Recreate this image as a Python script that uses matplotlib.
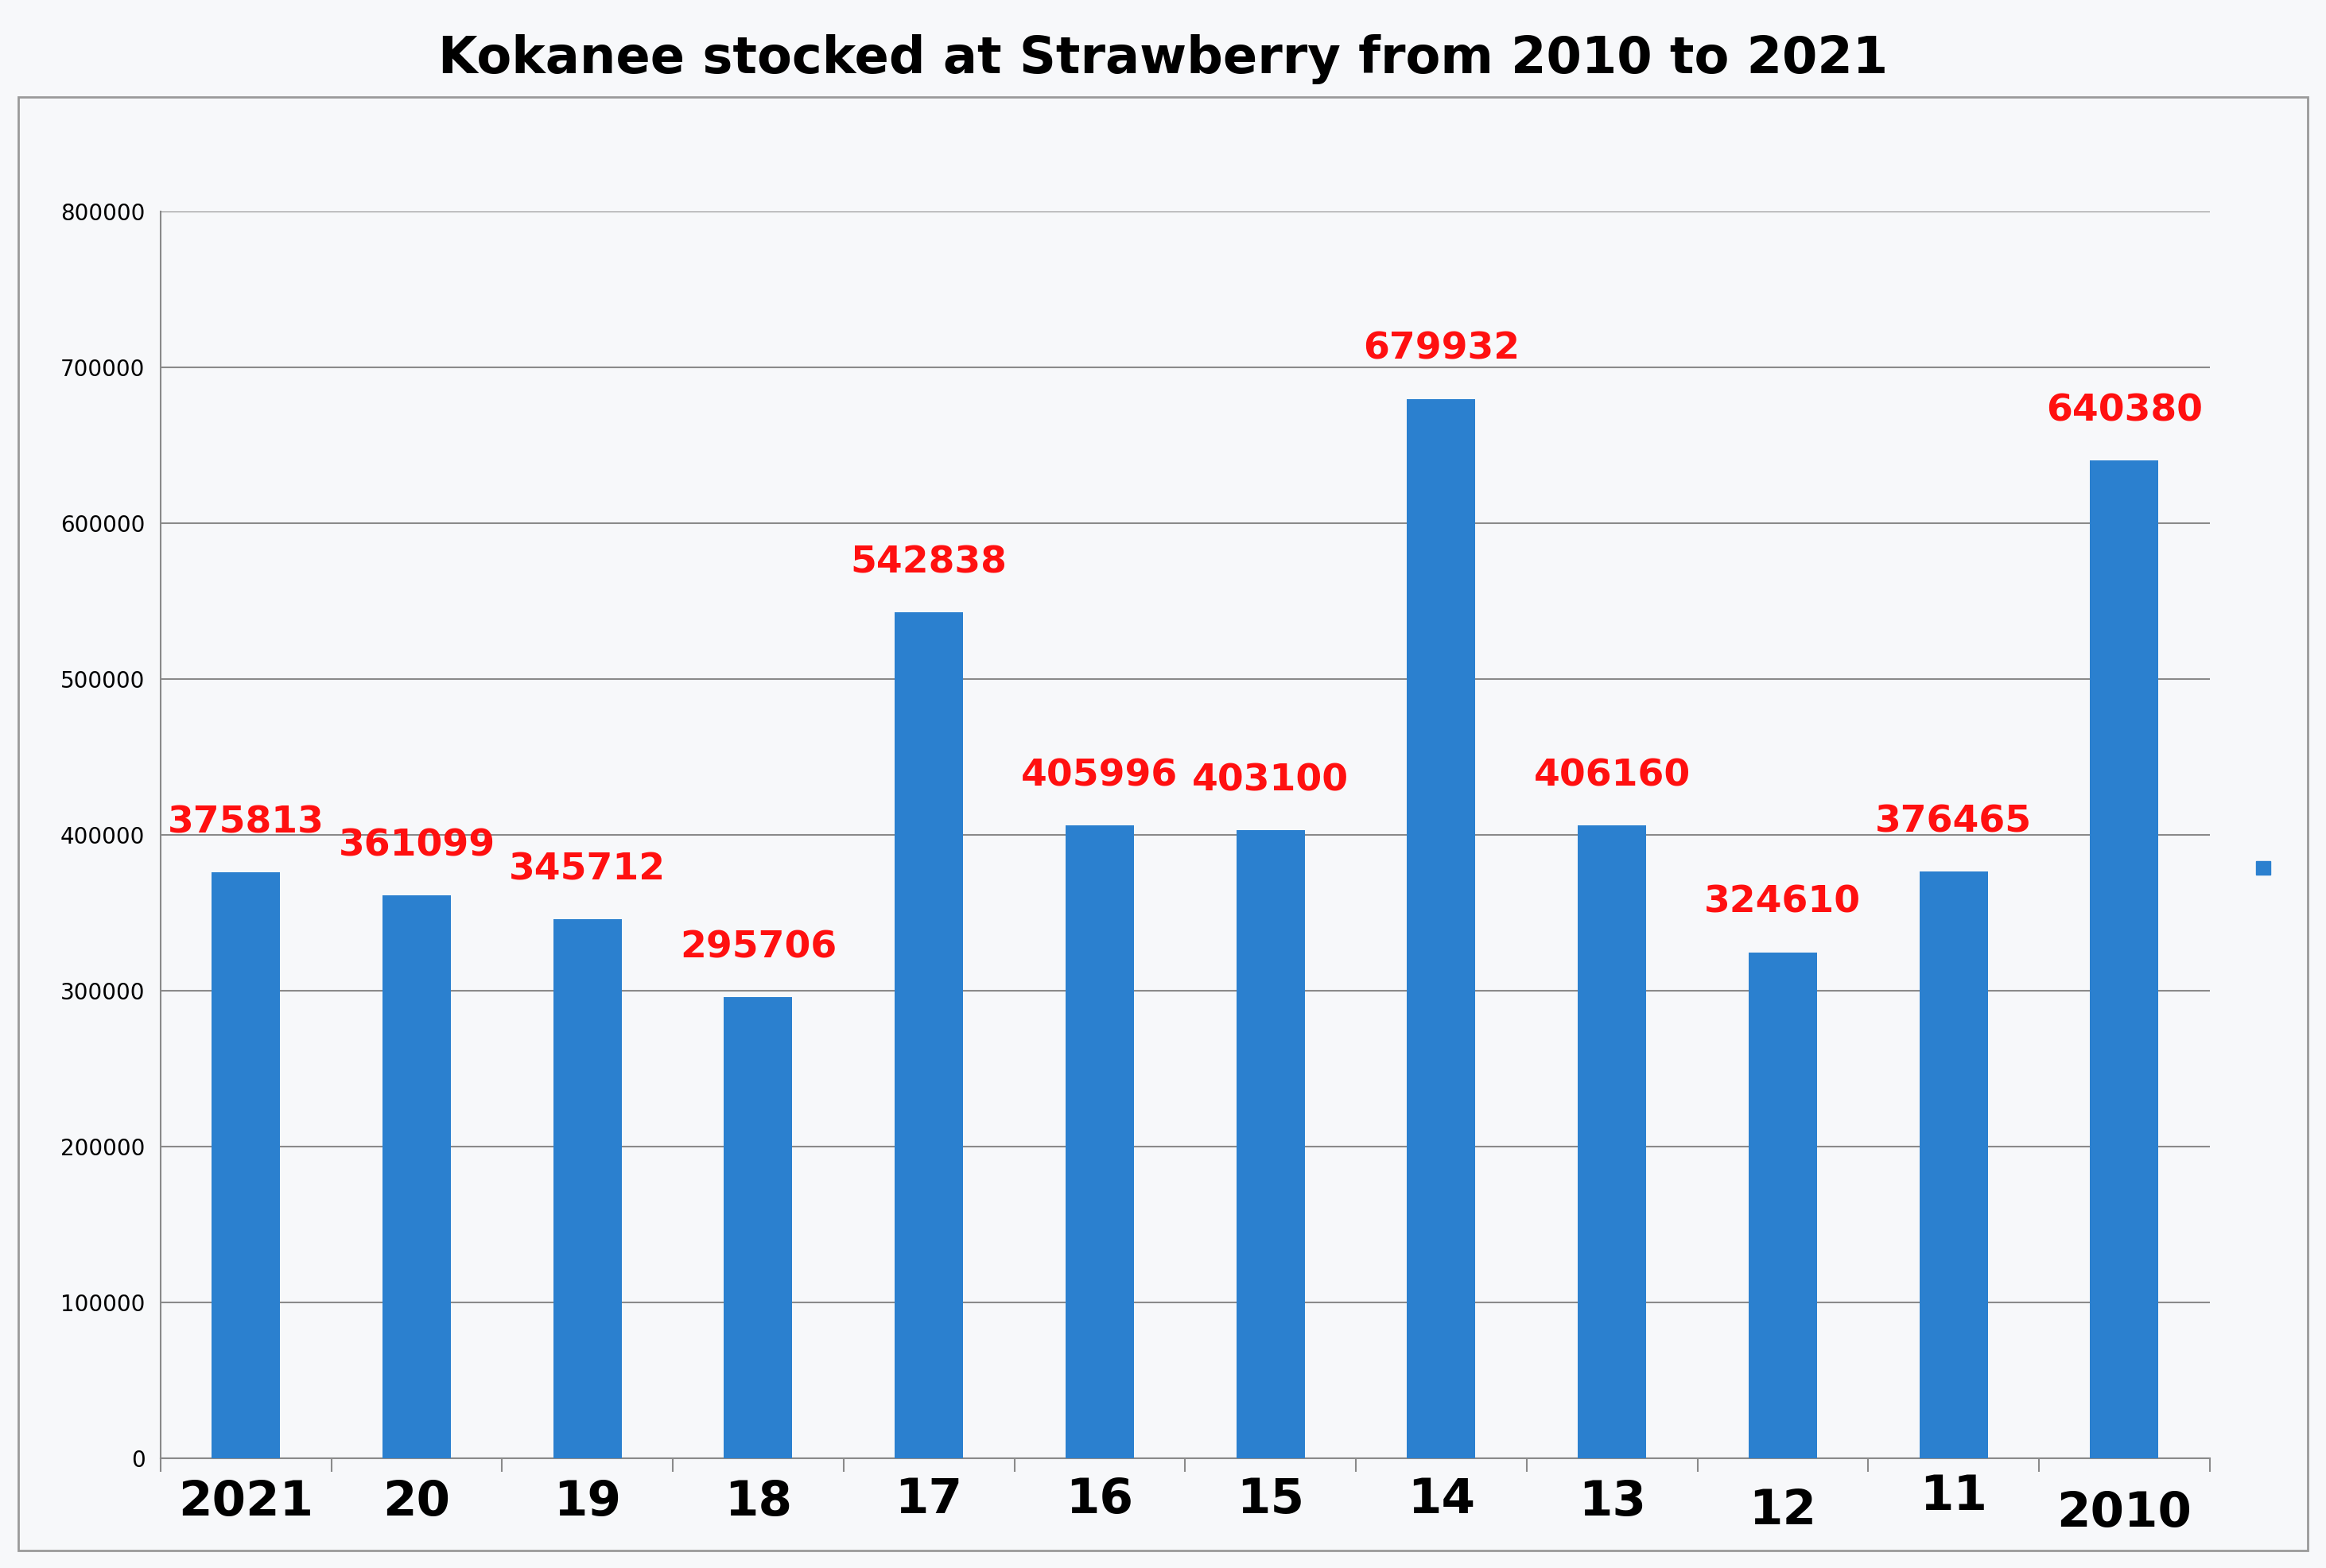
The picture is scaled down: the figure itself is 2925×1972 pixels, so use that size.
import matplotlib
matplotlib.use('Agg')
import matplotlib.pyplot as plt
from matplotlib.patches import Rectangle

years = ["2021", "20", "19", "18", "17", "16", "15", "14", "13", "12", "11", "2010"]
fish = [375813, 361099, 345712, 295706, 542838, 405996, 403100, 679932, 406160, 324610, 376465, 640380]
yticks = [0, 100000, 200000, 300000, 400000, 500000, 600000, 700000, 800000]

fig = plt.figure(figsize=(29.25, 19.72), dpi=100)
fig.patch.set_facecolor("#f7f8fa")

# outer chart frame
fig.patches.append(Rectangle((0.008, 0.011), 0.984, 0.927, transform=fig.transFigure,
                             fill=False, edgecolor="#9a9a9a", lw=2))

ax = fig.add_axes([0.069, 0.070, 0.881, 0.795])
ax.set_facecolor("#f7f8fa")
x = range(len(years))
ax.bar(x, fish, width=0.4, color="#2b80cf", zorder=3)
ax.set_xlim(-0.5, len(years) - 0.5)
ax.set_ylim(0, 800000)
ax.set_yticks(yticks)
ax.set_yticklabels([str(v) for v in yticks], fontsize=20)
ax.tick_params(axis="y", length=0, pad=14)
ax.grid(axis="y", color="#8a8a8a", lw=1.5, zorder=0)
for s in ["top", "right"]:
    ax.spines[s].set_visible(False)
ax.spines["left"].set_color("#8a8a8a")
ax.spines["left"].set_linewidth(1.5)
ax.spines["bottom"].set_color("#8a8a8a")
ax.spines["bottom"].set_linewidth(1.5)
ax.set_xticks([i - 0.5 for i in range(len(years) + 1)])
ax.set_xticklabels([])
ax.tick_params(axis="x", length=12, width=1.5, color="#8a8a8a")

for i, v in enumerate(fish):
    ax.annotate(str(v), (i, v), xytext=(0, 45), textcoords="offset points",
                ha="center", va="center", color="#ff1010", fontsize=34, fontweight="bold")

lab_off = [-40, -40, -40, -40, -38, -38, -38, -38, -40, -48, -35, -50]
for i, lab in enumerate(years):
    ax.annotate(lab, (i, 0), xytext=(0, lab_off[i]), textcoords="offset points",
                ha="center", va="center", color="black", fontsize=44, fontweight="bold",
                annotation_clip=False)

fig.text(0.5, 0.962, "Kokanee stocked at Strawberry from 2010 to 2021", ha="center", va="center",
         fontsize=46, color="black", fontweight="semibold")

# stray legend marker
fig.patches.append(Rectangle((0.970, 0.442), 0.006, 0.009, transform=fig.transFigure,
                             color="#2b80cf"))

plt.savefig("out.png", dpi=100, facecolor=fig.get_facecolor())
plt.close()
